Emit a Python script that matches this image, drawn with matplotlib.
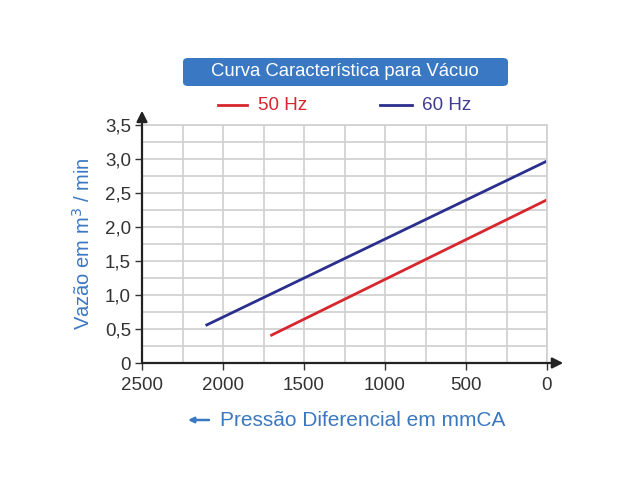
import matplotlib.pyplot as plt
from matplotlib.lines import Line2D
from matplotlib.patches import FancyBboxPatch

plt.rcParams['font.family'] = ['Liberation Sans', 'DejaVu Sans']

# dados
pressao_50hz = [1700, 0]
vazao_50hz = [0.41, 2.40]
pressao_60hz = [2100, 0]
vazao_60hz = [0.56, 2.97]

x_ticks = [2500, 2000, 1500, 1000, 500, 0]
y_ticks = [0, 0.5, 1.0, 1.5, 2.0, 2.5, 3.0, 3.5]
y_labels = ['0', '0,5', '1,0', '1,5', '2,0', '2,5', '3,0', '3,5']

VERMELHO = '#d7262e'
AZUL = '#2a2f8e'
AZUL_TXT = '#3b78c2'
GRID = '#d2d2d2'

fig = plt.figure(figsize=(6.4, 4.8), dpi=100)
ax = fig.add_axes([142/640, 1 - 363/480, 405/640, 238/480])

ax.plot(pressao_50hz, vazao_50hz, color=VERMELHO, lw=2)
ax.plot(pressao_60hz, vazao_60hz, color=AZUL, lw=2)

ax.set_xlim(2500, 0)
ax.set_ylim(0, 3.5)
ax.set_xticks(x_ticks)
ax.set_xticklabels([str(v) for v in x_ticks])
ax.set_yticks(y_ticks)
ax.set_yticklabels(y_labels)
ax.set_xticks(range(0, 2501, 250), minor=True)
ax.set_yticks([i * 0.25 for i in range(15)], minor=True)
ax.grid(True, which='both', color=GRID, lw=1.3)
ax.set_axisbelow(True)
ax.tick_params(which='minor', length=0)
ax.tick_params(which='major', length=5, width=1, color='#333333',
               labelsize=13.5, labelcolor='#333333', pad=3)
ax.tick_params(axis='x', pad=5)

for s in ['top', 'right']:
    ax.spines[s].set_color(GRID)
    ax.spines[s].set_linewidth(1.3)
for s in ['left', 'bottom']:
    ax.spines[s].set_visible(False)

# eixos com setas
ax.annotate('', xy=(1.04, 0), xytext=(0, 0), xycoords='axes fraction',
            arrowprops=dict(arrowstyle='-|>', color='#222222', lw=1.6,
                            mutation_scale=16, shrinkA=0, shrinkB=0),
            annotation_clip=False)
ax.annotate('', xy=(0, 1.06), xytext=(0, 0), xycoords='axes fraction',
            arrowprops=dict(arrowstyle='-|>', color='#222222', lw=1.6,
                            mutation_scale=16, shrinkA=0, shrinkB=0),
            annotation_clip=False)

ax.set_ylabel('Vazão em m$^3$ / min', color=AZUL_TXT, fontsize=14.5,
              labelpad=8)

# rótulo do eixo x com seta à esquerda
fig.text(220/640, 1 - 420/480, 'Pressão Diferencial em mmCA',
         color=AZUL_TXT, fontsize=15, ha='left', va='center')
fig.patches.append(FancyBboxPatch((0, 0), 0, 0, visible=False))
ax.annotate('', xy=(188/640, 1 - 420/480), xytext=(209/640, 1 - 420/480),
            xycoords='figure fraction',
            arrowprops=dict(arrowstyle='-|>', color=AZUL_TXT, lw=1.8,
                            mutation_scale=8, shrinkA=0, shrinkB=0),
            annotation_clip=False)

# título em caixa azul
caixa = FancyBboxPatch((183/640, 1 - 86/480), 325/640, 28/480,
                       boxstyle='round,pad=0,rounding_size=0.008',
                       transform=fig.transFigure, facecolor='#3a78c3',
                       edgecolor='none')
fig.patches.append(caixa)
fig.text(345/640, 1 - 72/480, 'Curva Característica para Vácuo',
         color='white', fontsize=13.3, ha='center', va='center')

# legenda
fig.lines.append(Line2D([218/640, 247/640], [1 - 105/480] * 2,
                        transform=fig.transFigure, color=VERMELHO, lw=2))
fig.text(258/640, 1 - 105/480, '50 Hz', color=VERMELHO, fontsize=13.6,
         va='center')
fig.lines.append(Line2D([380/640, 412/640], [1 - 105/480] * 2,
                        transform=fig.transFigure, color=AZUL, lw=2))
fig.text(422/640, 1 - 105/480, '60 Hz', color='#3f3c92', fontsize=13.6,
         va='center')

fig.savefig('out.png', dpi=100)
